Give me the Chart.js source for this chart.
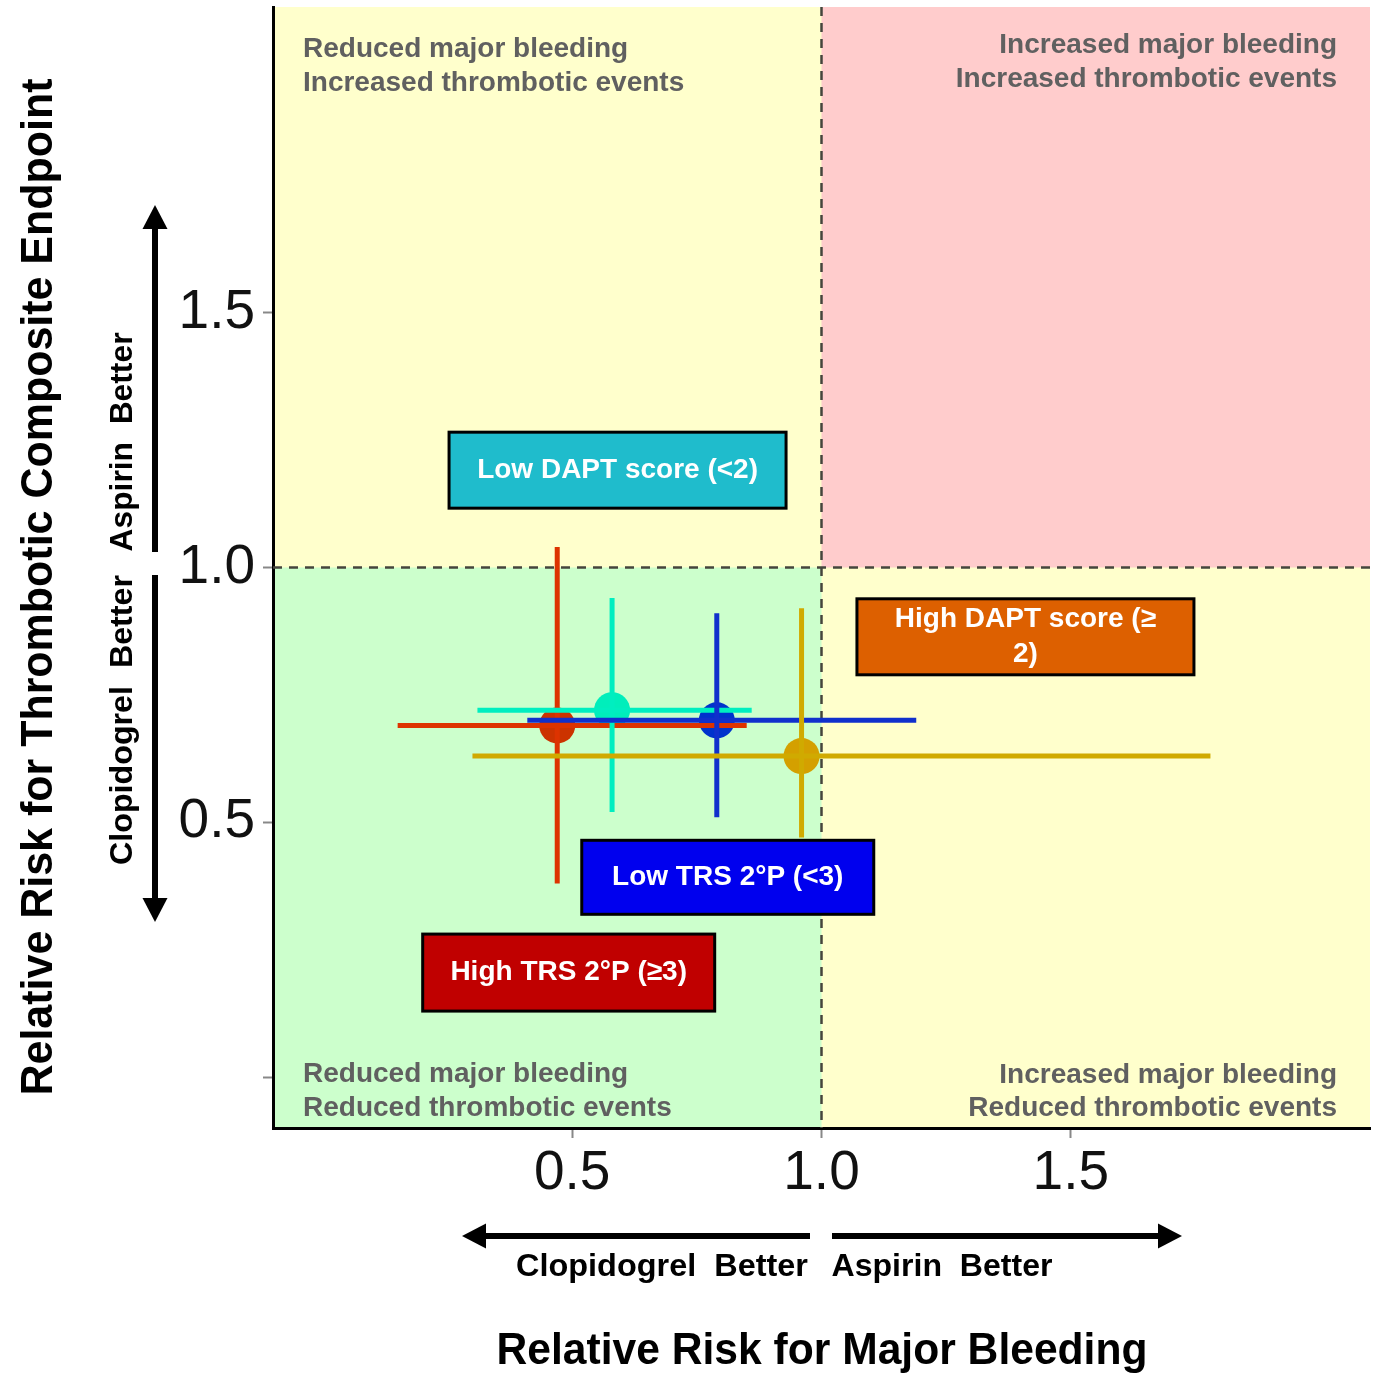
<!DOCTYPE html>
<html>
<head>
<meta charset="utf-8">
<script src="https://cdn.jsdelivr.net/npm/chart.js@4.4.0/dist/chart.umd.min.js"></script>
<style>
  html, body { margin: 0; padding: 0; background: #fff; }
  #wrap { width: 1381px; height: 1373px; }
</style>
</head>
<body>
<div id="wrap"><canvas id="chart-rr-quadrant" width="1381" height="1373"></canvas></div>
<script>
// subgroups and relative risks (point estimate + 95% CI)
var groups = ["High TRS 2°P (≥3)", "Low DAPT score (<2)", "Low TRS 2°P (<3)", "High DAPT score (≥ 2)"];
var bleed_rr = [0.47, 0.58, 0.79, 0.96];
var bleed_lo = [0.15, 0.31, 0.41, 0.30];
var bleed_hi = [0.85, 0.86, 1.19, 1.78];
var thromb_rr = [0.69, 0.72, 0.70, 0.63];
var thromb_lo = [0.38, 0.52, 0.51, 0.47];
var thromb_hi = [1.04, 0.94, 0.91, 0.92];

var x_ticks = [0.5, 1.0, 1.5];
var y_ticks = [0, 0.5, 1.0, 1.5];
var y_tick_labels = ["", "0.5", "1.0", "1.5"];

var FONT = '"Liberation Sans", Arial, sans-serif';

var dot_colors = ["#cc3300", "#00eebb", "#0033cc", "#d4a000"];
var bar_colors = ["#dd3300", "#00eec0", "#1030cc", "#d0aa00"];

// label boxes: centre in data units, size in px
var boxes = [
  { cx: 0.493, cy: 0.205, w: 292, h: 77, fill: "#c00000", lines: ["High TRS 2°P (≥3)"] },
  { cx: 0.591, cy: 1.191, w: 337, h: 76, fill: "#1fbccc", lines: ["Low DAPT score (<2)"] },
  { cx: 0.812, cy: 0.392, w: 292, h: 74, fill: "#0000ee", lines: ["Low TRS 2°P (<3)"] },
  { cx: 1.409, cy: 0.864, w: 337, h: 76, fill: "#dd6000", lines: ["High DAPT score (≥", "2)"] },
];

function fitText(ctx, text, cx, cy, width, font, rotate) {
  ctx.save();
  ctx.translate(cx, cy);
  if (rotate) ctx.rotate(-Math.PI / 2);
  ctx.font = font;
  var w = ctx.measureText(text).width;
  ctx.scale(width / w, 1);
  ctx.textAlign = "center";
  ctx.textBaseline = "middle";
  ctx.fillText(text, 0, 0);
  ctx.restore();
}

function arrow(ctx, x1, y1, x2, y2) {
  // shaft from (x1,y1) to tip (x2,y2)
  var ang = Math.atan2(y2 - y1, x2 - x1);
  var len = Math.hypot(x2 - x1, y2 - y1);
  ctx.save();
  ctx.translate(x1, y1);
  ctx.rotate(ang);
  ctx.fillStyle = "#000";
  ctx.fillRect(0, -3, len - 22, 6);
  ctx.beginPath();
  ctx.moveTo(len, 0);
  ctx.lineTo(len - 24, -12.5);
  ctx.lineTo(len - 24, 12.5);
  ctx.closePath();
  ctx.fill();
  ctx.restore();
}

var quadrantPlugin = {
  id: "quadrants",
  beforeDraw: function (chart) {
    var ctx = chart.ctx, a = chart.chartArea;
    var x1 = chart.scales.x.getPixelForValue(1), y1 = chart.scales.y.getPixelForValue(1);
    ctx.save();
    ctx.fillStyle = "#ffffcc";
    ctx.fillRect(a.left, a.top, a.right - a.left, a.bottom - a.top);
    ctx.fillStyle = "#ccffcc";
    ctx.fillRect(a.left, y1, x1 - a.left, a.bottom - y1);
    ctx.fillStyle = "#ffcccc";
    ctx.fillRect(x1, a.top, a.right - x1, y1 - a.top);
    ctx.restore();
  },
  beforeDatasetsDraw: function (chart) {
    var ctx = chart.ctx, a = chart.chartArea;
    var x1 = chart.scales.x.getPixelForValue(1), y1 = chart.scales.y.getPixelForValue(1);
    ctx.save();
    ctx.strokeStyle = "#45453c";
    ctx.lineWidth = 2.5;
    ctx.setLineDash([9, 7]);
    ctx.beginPath();
    ctx.moveTo(x1, a.top);
    ctx.lineTo(x1, a.bottom);
    ctx.moveTo(a.left, y1);
    ctx.lineTo(a.right, y1);
    ctx.stroke();
    ctx.setLineDash([]);

    // quadrant captions
    ctx.fillStyle = "#606060";
    ctx.font = "bold 28px " + FONT;
    ctx.textBaseline = "middle";
    ctx.textAlign = "left";
    ctx.fillText("Reduced major bleeding", a.left + 30, a.top + 42);
    ctx.fillText("Increased thrombotic events", a.left + 30, a.top + 76);
    ctx.fillText("Reduced major bleeding", a.left + 30, a.bottom - 54);
    ctx.fillText("Reduced thrombotic events", a.left + 30, a.bottom - 20);
    ctx.textAlign = "right";
    ctx.fillText("Increased major bleeding", a.right - 33, a.top + 38);
    ctx.fillText("Increased thrombotic events", a.right - 33, a.top + 72);
    ctx.fillText("Increased major bleeding", a.right - 33, a.bottom - 53);
    ctx.fillText("Reduced thrombotic events", a.right - 33, a.bottom - 20);
    ctx.restore();
  },
  afterDatasetsDraw: function (chart) {
    var ctx = chart.ctx, sx = chart.scales.x, sy = chart.scales.y;
    ctx.save();
    ctx.lineWidth = 5;
    ctx.lineCap = "butt";
    for (var i = 0; i < groups.length; i++) {
      ctx.strokeStyle = bar_colors[i];
      ctx.beginPath();
      ctx.moveTo(sx.getPixelForValue(bleed_lo[i]), sy.getPixelForValue(thromb_rr[i]));
      ctx.lineTo(sx.getPixelForValue(bleed_hi[i]), sy.getPixelForValue(thromb_rr[i]));
      ctx.moveTo(sx.getPixelForValue(bleed_rr[i]), sy.getPixelForValue(thromb_lo[i]));
      ctx.lineTo(sx.getPixelForValue(bleed_rr[i]), sy.getPixelForValue(thromb_hi[i]));
      ctx.stroke();
    }

    // coloured label boxes
    boxes.forEach(function (b) {
      var cx = sx.getPixelForValue(b.cx), cy = sy.getPixelForValue(b.cy);
      ctx.fillStyle = b.fill;
      ctx.fillRect(cx - b.w / 2, cy - b.h / 2, b.w, b.h);
      ctx.strokeStyle = "#000";
      ctx.lineWidth = 3;
      ctx.strokeRect(cx - b.w / 2, cy - b.h / 2, b.w, b.h);
      ctx.fillStyle = "#fff";
      ctx.font = "bold 28px " + FONT;
      ctx.textAlign = "center";
      ctx.textBaseline = "middle";
      var lh = 35, y0 = cy - (b.lines.length - 1) * lh / 2;
      b.lines.forEach(function (t, k) {
        ctx.fillText(t, cx, y0 + k * lh);
      });
    });
    ctx.restore();
  },
  afterDraw: function (chart) {
    var ctx = chart.ctx;
    ctx.save();
    ctx.fillStyle = "#000";
    // x direction arrows + labels
    arrow(ctx, 810, 1236, 462, 1236);
    arrow(ctx, 832, 1236, 1182, 1236);
    fitText(ctx, "Clopidogrel  Better", 662, 1267, 292, "bold 32px " + FONT);
    fitText(ctx, "Aspirin  Better", 942, 1267, 221, "bold 32px " + FONT);
    fitText(ctx, "Relative Risk for Major Bleeding", 822, 1352, 651, "bold 45px " + FONT);
    // y direction arrows + labels
    arrow(ctx, 155, 552, 155, 205);
    arrow(ctx, 155, 575, 155, 922);
    fitText(ctx, "Aspirin  Better", 123, 442, 219, "bold 32px " + FONT, true);
    fitText(ctx, "Clopidogrel  Better", 123, 720, 290, "bold 32px " + FONT, true);
    fitText(ctx, "Relative Risk for Thrombotic Composite Endpoint", 40, 587, 1017, "bold 45px " + FONT, true);
    ctx.restore();
  },
};

var ctx = document.getElementById("chart-rr-quadrant").getContext("2d");

new Chart(ctx, {
  type: "scatter",
  data: {
    datasets: groups.map(function (g, i) {
      return {
        label: g,
        data: [{ x: bleed_rr[i], y: thromb_rr[i] }],
        pointRadius: 18,
        pointHoverRadius: 18,
        backgroundColor: dot_colors[i],
        borderWidth: 0,
      };
    }),
  },
  options: {
    responsive: false,
    animation: false,
    devicePixelRatio: 1,
    layout: {
      autoPadding: false,
      padding: { left: 73, right: 11, top: 7, bottom: 0 },
    },
    plugins: {
      legend: { display: false },
      tooltip: { enabled: false },
    },
    scales: {
      x: {
        type: "linear",
        min: -0.1,
        max: 2.1,
        afterBuildTicks: function (scale) {
          scale.ticks = x_ticks.map(function (v) { return { value: v }; });
        },
        afterFit: function (scale) {
          scale.height = 245;
          scale.paddingLeft = 0;
          scale.paddingRight = 0;
        },
        grid: {
          drawOnChartArea: false,
          drawTicks: true,
          tickLength: 10,
          tickWidth: 2,
          tickColor: "#888",
        },
        border: { display: true, color: "#000", width: 3 },
        ticks: {
          padding: 3,
          color: "#111",
          font: { size: 55, family: FONT },
          callback: function (value) {
            return value.toFixed(1);
          },
        },
      },
      y: {
        type: "linear",
        min: -0.1,
        max: 2.1,
        afterBuildTicks: function (scale) {
          scale.ticks = y_ticks.map(function (v) { return { value: v }; });
        },
        afterFit: function (scale) {
          scale.width = 200;
          scale.paddingTop = 0;
          scale.paddingBottom = 0;
        },
        grid: {
          drawOnChartArea: false,
          drawTicks: true,
          tickLength: 10,
          tickWidth: 2,
          tickColor: "#888",
        },
        border: { display: true, color: "#000", width: 3 },
        ticks: {
          padding: 8,
          color: "#111",
          font: { size: 55, family: FONT },
          callback: function (value, index) {
            return y_tick_labels[index];
          },
        },
      },
    },
  },
  plugins: [quadrantPlugin],
});
</script>
</body>
</html>
